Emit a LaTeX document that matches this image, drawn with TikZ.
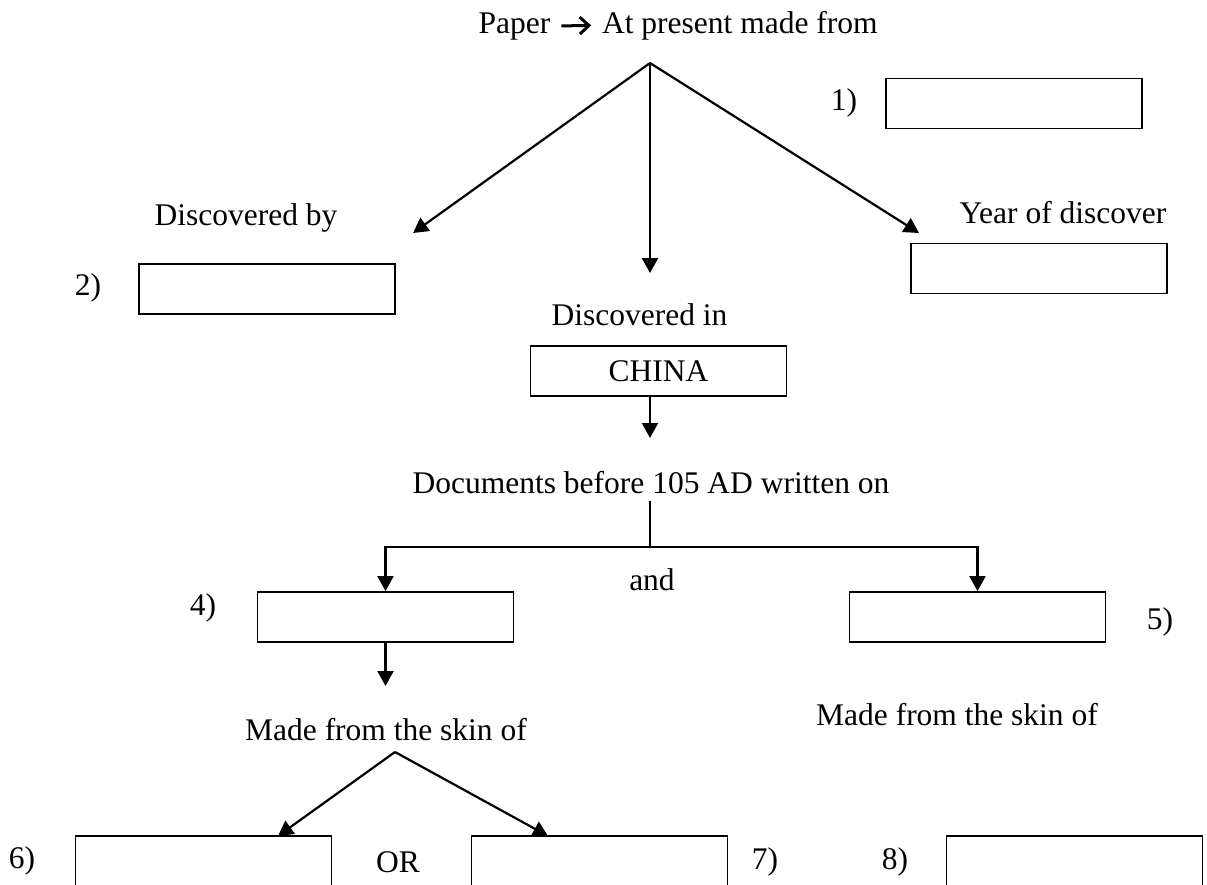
\documentclass[tikz,border=0pt]{standalone}
\usepackage{fontspec}
\setmainfont{Liberation Serif}
\usetikzlibrary{positioning,arrows.meta}

\begin{document}
\begin{tikzpicture}[x=0.5pt, y=-0.5pt,
	every node/.style={font=\fontsize{15.75}{19}\selectfont},
	blank/.style={draw, line width=0.9pt, minimum width=128pt, minimum height=25pt, inner sep=0pt},
	link/.style={line width=1.1pt, -{Triangle[length=7.5pt,width=8pt]}}]
\useasboundingbox (0,0) rectangle (1207,885);
\clip (0,0) rectangle (1207,885);
\node[anchor=base west] (paper) at (471.5,33) {Paper};
\node[anchor=base west] (madefrom) at (595,33) {At present made from};
\draw[line width=1.5pt, shorten <=2pt, shorten >=2pt, -{Straight Barb[length=4.5pt,width=8.5pt]}] (paper.east) -- (madefrom.west);
\coordinate (top) at (650,63);
\node (n1) at (844,103) {1)};
\node[blank] (material) at (1014,103.5) {};
\node (by) at (246,218) {Discovered by};
\node (n2) at (88,288) {2)};
\node[blank] (inventor) at (267,289) {};
\node (yeartext) at (1063,213) {Year of discover};
\node[blank] (year) at (1039,268.5) {};
\node (in) at (639.5,315) {Discovered in};
\node[blank] (china) at (658.5,371) {CHINA};
\node (docs) at (651,483) {Documents before 105 AD written on};
\node (and) at (652,580) {and};
\node (n4) at (203,608) {4)};
\node[blank] (first) at (385.5,617) {};
\node[blank] (second) at (977.5,617) {};
\node (n5) at (1160,622) {5)};
\node (skinl) at (386,730) {Made from the skin of};
\node (skinr) at (957,715) {Made from the skin of};
\node (n6) at (22,861) {6)};
\node[blank] (animala) at (203.5,861) {};
\node (or) at (398,862) {OR};
\node[blank] (animalb) at (599.5,861) {};
\node (n7) at (765,862) {7)};
\node (n8) at (895,862) {8)};
\node[blank] (animalc) at (1074.5,861) {};

\coordinate (byend) at (413,233);
\coordinate (inend) at (650,273);
\coordinate (yearend) at (919,233);
\draw[link] (top) -- (byend);
\draw[link] (top) -- (inend);
\draw[link] (top) -- (yearend);
\coordinate (docsend) at (650,438);
\draw[link] (china.south -| top) -- (docsend);
\coordinate (split) at (650,547);
\draw[line width=1.1pt] (docs.south -| split) -- (split);
\draw[link] (split) -| (first.north);
\draw[link] (split) -| (second.north);
\coordinate (skinend) at (385.5,686);
\draw[link] (first.south) -- (skinend);
\coordinate (fork) at (395,752);
\coordinate (tipa) at (278,836);
\coordinate (tipb) at (548,836);
\draw[link] (fork) -- (tipa);
\draw[link] (fork) -- (tipb);
\end{tikzpicture}
\end{document}
